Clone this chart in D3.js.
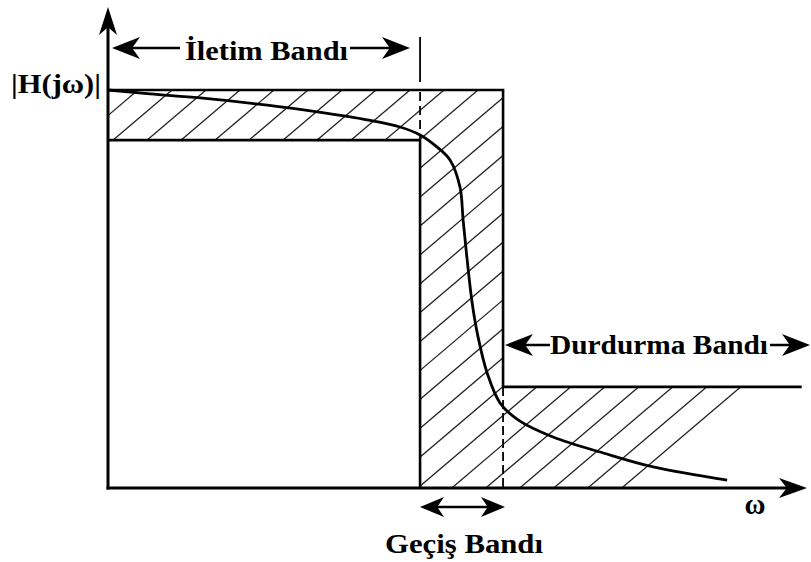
<!DOCTYPE html>
<html><head><meta charset="utf-8">
<script src="https://cdn.jsdelivr.net/npm/d3@7"></script>
<style>html,body{margin:0;padding:0;background:#fff;}svg{display:block;}</style>
</head><body>
<svg id="chart" width="811" height="562"></svg>
<script>
// ---- data (normalised frequency ω, magnitude |H(jω)|) ----
const curveOmega = [0, 0.135, 0.295, 0.51, 0.67, 0.83, 0.936, 1.0, 1.054, 1.096, 1.128, 1.138, 1.151, 1.167, 1.186, 1.215, 1.256, 1.314, 1.426, 1.587, 1.747, 1.984];
const curveMag   = [1.0, 0.990, 0.980, 0.962, 0.945, 0.925, 0.907, 0.887, 0.857, 0.824, 0.756, 0.673, 0.573, 0.465, 0.379, 0.289, 0.214, 0.171, 0.128, 0.088, 0.053, 0.020];
const passEdge = 1.0;          // ωp
const stopEdge = 1.266;        // ωs
const passTop = 1.0;           // 1
const passBottom = 0.874;      // 1-δp
const stopLevel = 0.254;       // δs
const stopLineEnd = 2.223;     // end of stopband bound line
const hatchStopEnd = 2.075;    // right limit of hatched stopband region
const labels = {
  yAxis: "|H(jω)|", xAxis: "ω",
  pass: "İletim Bandı", trans: "Geçiş Bandı", stop: "Durdurma Bandı"
};

const svg = d3.select("#chart");
const x = d3.scaleLinear().domain([0, 2.24]).range([108, 807]);
const y = d3.scaleLinear().domain([0, 1]).range([488, 90]);
const ink = "#000";
const font = "'Liberation Serif','Times New Roman',serif";

// ---- hatch (clipped) ----
const defs = svg.append("defs");
const clipPoly = [
  [x(0), y(passTop)], [x(stopEdge), y(passTop)], [x(stopEdge), y(stopLevel)],
  [x(hatchStopEnd), y(stopLevel)], [x(hatchStopEnd) - 105, y(0)],
  [x(passEdge), y(0)], [x(passEdge), y(passBottom)], [x(0), y(passBottom)]
];
defs.append("clipPath").attr("id", "hclip")
  .append("polygon").attr("points", clipPoly.map(p => p.join(",")).join(" "));
const slope = 0.85, spacing = 34, phaseX = 113, phaseY = y(passBottom);
const hatchIdx = d3.range(-20, 30);
svg.append("g").attr("clip-path", "url(#hclip)")
  .selectAll("line").data(hatchIdx).join("line")
  .attr("x1", k => phaseX + spacing * k - (y(0) - phaseY) / slope)
  .attr("y1", y(0))
  .attr("x2", k => phaseX + spacing * k + (phaseY - y(passTop) + 10) / slope)
  .attr("y2", y(passTop) - 10)
  .attr("stroke", "#222").attr("stroke-width", 1.3);

// ---- specification bounds ----
const bounds = svg.append("g").attr("fill", "none").attr("stroke", ink).attr("stroke-width", 2.6);
bounds.append("path").attr("d", d3.line()([[x(0), y(passTop)], [x(stopEdge), y(passTop)], [x(stopEdge), y(stopLevel)], [x(stopLineEnd), y(stopLevel)]]));
bounds.append("path").attr("d", d3.line()([[x(0), y(passBottom)], [x(passEdge), y(passBottom)], [x(passEdge), y(0)]]));
// dashed markers
svg.append("line").attr("x1", x(passEdge)).attr("x2", x(passEdge)).attr("y1", 37).attr("y2", 82)
  .attr("stroke", ink).attr("stroke-width", 1.8);
svg.append("line").attr("x1", x(passEdge)).attr("x2", x(passEdge)).attr("y1", y(passTop) + 2).attr("y2", y(passBottom))
  .attr("stroke", ink).attr("stroke-width", 1.8).attr("stroke-dasharray", "9,5");
svg.append("line").attr("x1", x(stopEdge)).attr("x2", x(stopEdge)).attr("y1", y(stopLevel)).attr("y2", y(0))
  .attr("stroke", ink).attr("stroke-width", 1.8).attr("stroke-dasharray", "9,4");

// ---- response curve ----
const pts = curveOmega.map((w, i) => [x(w), y(curveMag[i])]);
svg.append("path").attr("d", d3.line().curve(d3.curveCatmullRom.alpha(0.5))(pts))
  .attr("fill", "none").attr("stroke", ink).attr("stroke-width", 2.8);

// ---- axes ----
function arrowHead(tip, dir, len, half) {
  const [tx, ty] = tip, [dx, dy] = dir, nx = -dy, ny = dx;
  const bx = tx - dx * len, by = ty - dy * len;
  const ix = tx - dx * len * 0.72, iy = ty - dy * len * 0.72;
  svg.append("path").attr("fill", ink)
    .attr("d", `M${tx},${ty} L${bx + nx * half},${by + ny * half} L${ix},${iy} L${bx - nx * half},${by - ny * half} Z`);
}
svg.append("line").attr("x1", x(0)).attr("x2", x(0)).attr("y1", 20).attr("y2", y(0) + 1.5)
  .attr("stroke", ink).attr("stroke-width", 3);
arrowHead([x(0), 7], [0, -1], 28, 9);
svg.append("line").attr("x1", x(0) - 1.5).attr("x2", 795).attr("y1", y(0)).attr("y2", y(0))
  .attr("stroke", ink).attr("stroke-width", 3);
arrowHead([807, y(0)], [1, 0], 28, 10);

// ---- band arrows ----
function bandArrow(x1, x2, yy, t1, t2, len, half) {
  svg.append("line").attr("x1", x1 + 5).attr("x2", t1).attr("y1", yy).attr("y2", yy).attr("stroke", ink).attr("stroke-width", 2.6);
  svg.append("line").attr("x1", t2).attr("x2", x2 - 5).attr("y1", yy).attr("y2", yy).attr("stroke", ink).attr("stroke-width", 2.6);
  arrowHead([x1, yy], [-1, 0], len, half);
  arrowHead([x2, yy], [1, 0], len, half);
}
bandArrow(112, 410, 48, 180, 350, 28, 11);
bandArrow(505, 810, 345, 550, 770, 28, 11);
bandArrow(420, 505, 507, 460, 460, 24, 10);

// ---- texts ----
const txt = (s, tx, ty, size, anchor, len) => {
  const t = svg.append("text").attr("x", tx).attr("y", ty).text(s)
    .attr("font-family", font).attr("font-weight", "bold").attr("font-size", size)
    .attr("text-anchor", anchor).attr("fill", ink);
  if (len) t.attr("textLength", len).attr("lengthAdjust", "spacingAndGlyphs");
  return t;
};
txt(labels.pass, 185, 60, 28, "start", 163);
txt(labels.stop, 550, 354, 28, "start", 218);
txt(labels.trans, 385, 553, 28, "start", 158);
txt(labels.yAxis, 101, 93, 28, "end", 90);
txt(labels.xAxis, 755, 514, 30, "middle", 21);
</script>
</body></html>
